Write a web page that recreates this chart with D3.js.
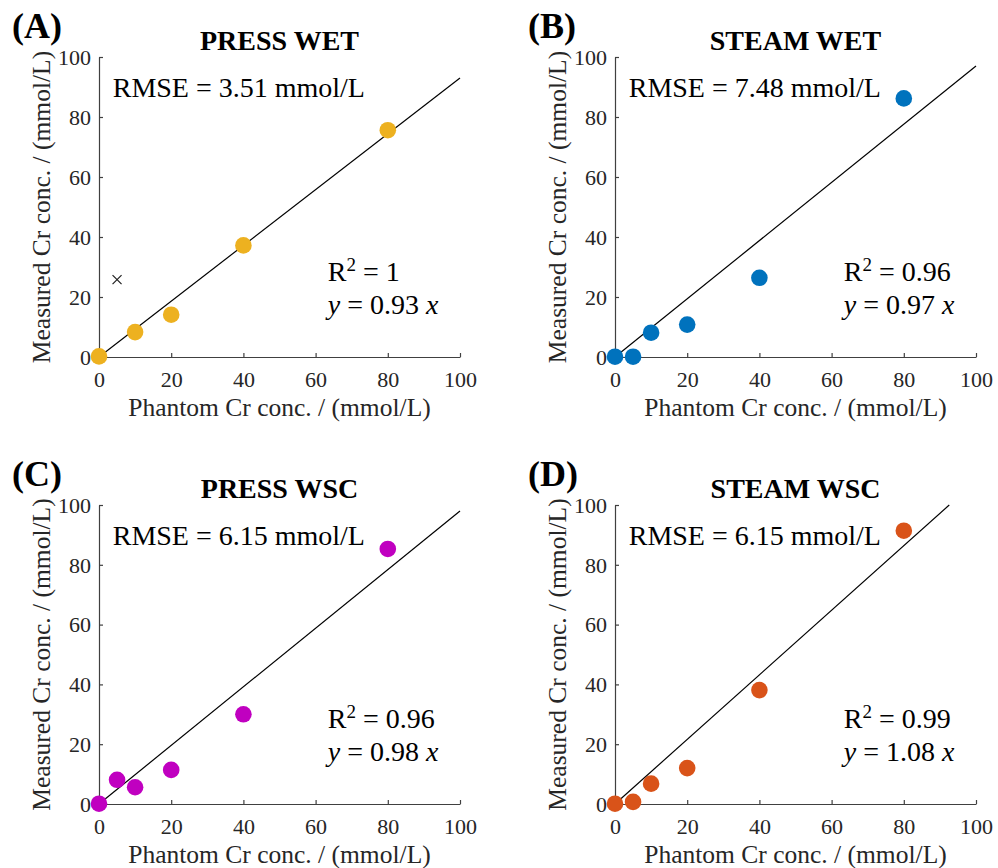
<!DOCTYPE html>
<html>
<head>
<meta charset="utf-8">
<script src="https://cdn.jsdelivr.net/npm/d3@7"></script>
<style>
body { margin: 0; background: #fff; }
text { font-family: "Liberation Serif", "Times New Roman", serif; }
</style>
</head>
<body>
<div id="chart"></div>
<script>
// phantom concentrations (mmol/L)
var phantom = [0, 5, 10, 20, 40, 80]

// measured Cr conc. per panel (null = not plotted as a dot)
var pressWet = [0.2, null, 8.3, 14.1, 37.2, 75.6]
var steamWet = [0.1, 0.1, 8.1, 10.8, 26.4, 86.2]
var pressWsc = [0.1, 8.1, 5.6, 11.4, 30.0, 85.3]
var steamWsc = [0.1, 0.7, 6.8, 12.0, 38.1, 91.4]

// excluded point in panel A
var pressWetOutlier = [5, 25.8]

var panelTags = ["(A)", "(B)", "(C)", "(D)"]
var titles = ["PRESS WET", "STEAM WET", "PRESS WSC", "STEAM WSC"]
var rmse = ["3.51", "7.48", "6.15", "6.15"]
var r2 = ["1", "0.96", "0.96", "0.99"]
var slopes = [0.93, 0.97, 0.98, 1.08]
var ticks = [0, 20, 40, 60, 80, 100]
var colors = ["#EDB120", "#0072BD", "#C000C0", "#D95319"]

var W = 998, H = 868
var svg = d3.select("#chart").append("svg")
  .attr("width", W)
  .attr("height", H)

svg.append("rect").attr("width", W).attr("height", H).attr("fill", "#fff")

var panels = [
  {vals: pressWet, left: 99, right: 460, top: 57, bottom: 357},
  {vals: steamWet, left: 615, right: 976, top: 57, bottom: 357},
  {vals: pressWsc, left: 99, right: 460, top: 505, bottom: 804},
  {vals: steamWsc, left: 615, right: 976, top: 505, bottom: 804}
]

var axisColor = "#404040"

panels.forEach(function(p, i){
  var x = d3.scaleLinear().domain([0, 100]).range([p.left, p.right])
  var y = d3.scaleLinear().domain([0, 100]).range([p.bottom, p.top])
  var g = svg.append("g")

  // panel tag + title
  g.append("text")
  .attr("x", p.left - 87)
  .attr("y", p.top - 19)
  .attr("font-size", 36)
  .attr("font-weight", "bold")
  .attr("fill", "#000")
  .text(panelTags[i])

  g.append("text")
  .attr("x", (p.left + p.right) / 2)
  .attr("y", p.top - 7)
  .attr("text-anchor", "middle")
  .attr("font-size", 28)
  .attr("font-weight", "bold")
  .attr("fill", "#000")
  .text(titles[i])

  // axes, ticks pointing inward
  var xAxis = g.append("g")
  .attr("transform", "translate(0," + p.bottom + ")")
  .call(d3.axisBottom(x).tickValues(ticks).tickSize(-4).tickSizeOuter(0).tickPadding(10))
  var yAxis = g.append("g")
  .attr("transform", "translate(" + p.left + ",0)")
  .call(d3.axisLeft(y).tickValues(ticks).tickSize(-4).tickSizeOuter(0).tickPadding(8))

  ;[xAxis, yAxis].forEach(function(a){
    a.select(".domain").attr("stroke", axisColor).attr("stroke-width", 1.2)
    a.selectAll(".tick line").attr("stroke", axisColor).attr("stroke-width", 1.2)
    a.selectAll(".tick text")
    .attr("font-family", "Liberation Serif")
    .attr("font-size", 22)
    .attr("fill", "#262626")
  })
  xAxis.selectAll(".tick text").attr("dy", "0.9em")
  yAxis.selectAll(".tick text").attr("dy", "0.33em")

  // axis labels
  g.append("text")
  .attr("x", (p.left + p.right) / 2)
  .attr("y", p.bottom + 50)
  .attr("dy", "0.35em")
  .attr("text-anchor", "middle")
  .attr("font-size", 25.5)
  .attr("fill", "#262626")
  .text("Phantom Cr conc. / (mmol/L)")

  g.append("text")
  .attr("transform", "translate(" + (p.left - 58) + "," + ((p.top + p.bottom) / 2) + ") rotate(-90)")
  .attr("dy", "0.35em")
  .attr("text-anchor", "middle")
  .attr("font-size", 25.5)
  .attr("fill", "#262626")
  .text("Measured Cr conc. / (mmol/L)")

  // fit line y = slope * x, clipped to the axes box
  var xEnd = Math.min(100, 100 / slopes[i])
  g.append("line")
  .attr("x1", x(0)).attr("y1", y(0))
  .attr("x2", x(xEnd)).attr("y2", y(slopes[i] * xEnd))
  .attr("stroke", "#000")
  .attr("stroke-width", 1.2)

  // measured points
  var pts = phantom.map(function(c, j){ return {c: c, v: p.vals[j]} })
  .filter(function(d){ return d.v !== null })
  g.selectAll("circle")
  .data(pts)
  .enter()
  .append("circle")
  .attr("cx", function(d){ return x(d.c) })
  .attr("cy", function(d){ return y(d.v) })
  .attr("r", 8.3)
  .attr("fill", colors[i])

  if (i == 0) {
    var ox = x(pressWetOutlier[0]), oy = y(pressWetOutlier[1]), s = 4.5
    g.append("path")
    .attr("d", "M" + (ox - s) + "," + (oy - s) + "L" + (ox + s) + "," + (oy + s) +
      "M" + (ox - s) + "," + (oy + s) + "L" + (ox + s) + "," + (oy - s))
    .attr("stroke", "#222")
    .attr("stroke-width", 1.2)
  }

  // annotations
  g.append("text")
  .attr("x", x(3.8))
  .attr("y", y(90))
  .attr("dy", "0.35em")
  .attr("font-size", 28)
  .attr("fill", "#000")
  .text("RMSE = " + rmse[i] + " mmol/L")

  var rt = g.append("text")
  .attr("x", x(63.4))
  .attr("y", y(28.6))
  .attr("dy", "0.35em")
  .attr("font-size", 28)
  .attr("fill", "#000")
  rt.append("tspan").text("R")
  rt.append("tspan").attr("font-size", 19).attr("dy", "-0.55em").text("2")
  rt.append("tspan").attr("dy", "0.38em").text(" = " + r2[i])

  var st = g.append("text")
  .attr("x", x(63.4))
  .attr("y", y(17.6))
  .attr("dy", "0.35em")
  .attr("font-size", 28)
  .attr("fill", "#000")
  st.append("tspan").attr("font-style", "italic").text("y")
  st.append("tspan").text(" = " + slopes[i].toFixed(2) + " ")
  st.append("tspan").attr("font-style", "italic").text("x")
})
</script>
</body>
</html>
